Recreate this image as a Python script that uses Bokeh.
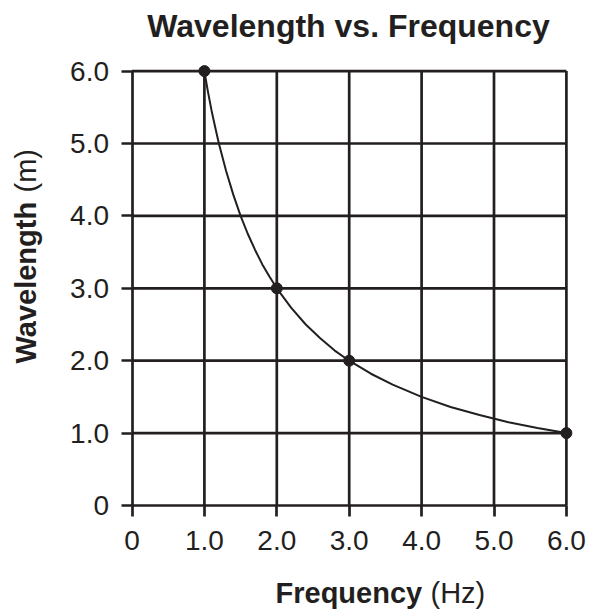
import numpy as np
from bokeh.plotting import figure
from bokeh.models import Range1d, FixedTicker, Label
from bokeh.embed import file_html
from bokeh.resources import INLINE

# ---- data ----
point_freq = [1.0, 2.0, 3.0, 6.0]
point_wave = [6.0, 3.0, 2.0, 1.0]

curve_freq = [1.0, 1.05, 1.1, 1.15, 1.2, 1.3, 1.4, 1.5, 1.6, 1.7, 1.8, 1.9, 2.0,
              2.2, 2.4, 2.6, 2.8, 3.0, 3.3, 3.6, 4.0, 4.4, 4.8, 5.2, 5.6, 6.0]
curve_wave = [6.0, 5.71, 5.45, 5.22, 5.0, 4.62, 4.29, 4.0, 3.75, 3.53, 3.33, 3.16, 3.0,
              2.73, 2.5, 2.31, 2.14, 2.0, 1.82, 1.67, 1.5, 1.36, 1.25, 1.15, 1.07, 1.0]

x_ticks = [0, 1, 2, 3, 4, 5, 6]
x_tick_labels = ["0", "1.0", "2.0", "3.0", "4.0", "5.0", "6.0"]
y_ticks = [0, 1, 2, 3, 4, 5, 6]
y_tick_labels = ["0", "1.0", "2.0", "3.0", "4.0", "5.0", "6.0"]

title_text = "Wavelength vs. Frequency"
x_label_bold, x_label_unit = "Frequency", "(Hz)"
y_label_bold, y_label_unit = "Wavelength", "(m)"

INK = "#231f20"
FONT = "Liberation Sans"
LW = 2.7
S = 72.4           # pixels per data unit
OX, OY = 131.5, 505.0  # pixel position of the data origin
W, H = 592, 610

p = figure(output_backend="svg", toolbar_location=None,
           x_range=Range1d(-OX / S, (W - OX) / S),
           y_range=Range1d(-(H - OY) / S, OY / S),
           frame_width=W, frame_height=H,
           min_border=0,
           background_fill_color="white", border_fill_color="white")
p.outline_line_color = None
p.xgrid.visible = False
p.ygrid.visible = False

# grid lines
xmax, ymax = x_ticks[-1], y_ticks[-1]
p.segment(x0=x_ticks[1:], y0=[0] * (len(x_ticks) - 1), x1=x_ticks[1:], y1=[ymax] * (len(x_ticks) - 1),
          line_color=INK, line_width=LW)
p.segment(x0=[0] * (len(y_ticks) - 1), y0=y_ticks[1:], x1=[xmax] * (len(y_ticks) - 1), y1=y_ticks[1:],
          line_color=INK, line_width=LW)

# curve and points
p.line(curve_freq, curve_wave, line_color=INK, line_width=2.0)
p.scatter(point_freq, point_wave, size=11, fill_color=INK, line_color=INK)

for ax, ticks, labels in ((p.xaxis[0], x_ticks, x_tick_labels), (p.yaxis[0], y_ticks, y_tick_labels)):
    ax.fixed_location = 0
    ax.ticker = FixedTicker(ticks=ticks)
    ax.major_label_overrides = {t: l for t, l in zip(ticks, labels)}
    ax.bounds = (0, 6)
    ax.axis_line_color = INK
    ax.axis_line_width = LW
    ax.major_tick_line_color = INK
    ax.major_tick_line_width = LW
    ax.major_tick_out = 11
    ax.major_tick_in = 0
    ax.minor_tick_line_color = None
    ax.major_label_text_font = FONT
    ax.major_label_text_font_size = "28px"
    ax.major_label_text_color = INK
p.xaxis.major_label_standoff = 14
p.yaxis.major_label_standoff = 12


def dx(px):
    return (px - OX) / S


def dy(py):
    return (OY - py) / S


p.add_layout(Label(x=dx(348), y=dy(25), text=title_text, text_font=FONT, text_font_style="bold",
                   text_font_size="32px", text_align="center", text_baseline="alphabetic",
                   text_color=INK))
p.add_layout(Label(x=dx(275), y=dy(592), text=x_label_bold, text_font=FONT, text_font_style="bold",
                   text_font_size="29px", text_align="left", text_baseline="alphabetic",
                   text_color=INK))
p.add_layout(Label(x=dx(430), y=dy(592), text=x_label_unit, text_font=FONT,
                   text_font_size="29px", text_align="left", text_baseline="alphabetic",
                   text_color=INK))
p.add_layout(Label(x=dx(25), y=dy(363), text=y_label_bold, text_font=FONT, text_font_style="bold",
                   text_font_size="29px", text_align="left", text_baseline="alphabetic",
                   angle=np.pi / 2, text_color=INK))
p.add_layout(Label(x=dx(25), y=dy(192), text=y_label_unit, text_font=FONT,
                   text_font_size="29px", text_align="left", text_baseline="alphabetic",
                   angle=np.pi / 2, text_color=INK))

open("out.html", "w").write(file_html(p, INLINE))
